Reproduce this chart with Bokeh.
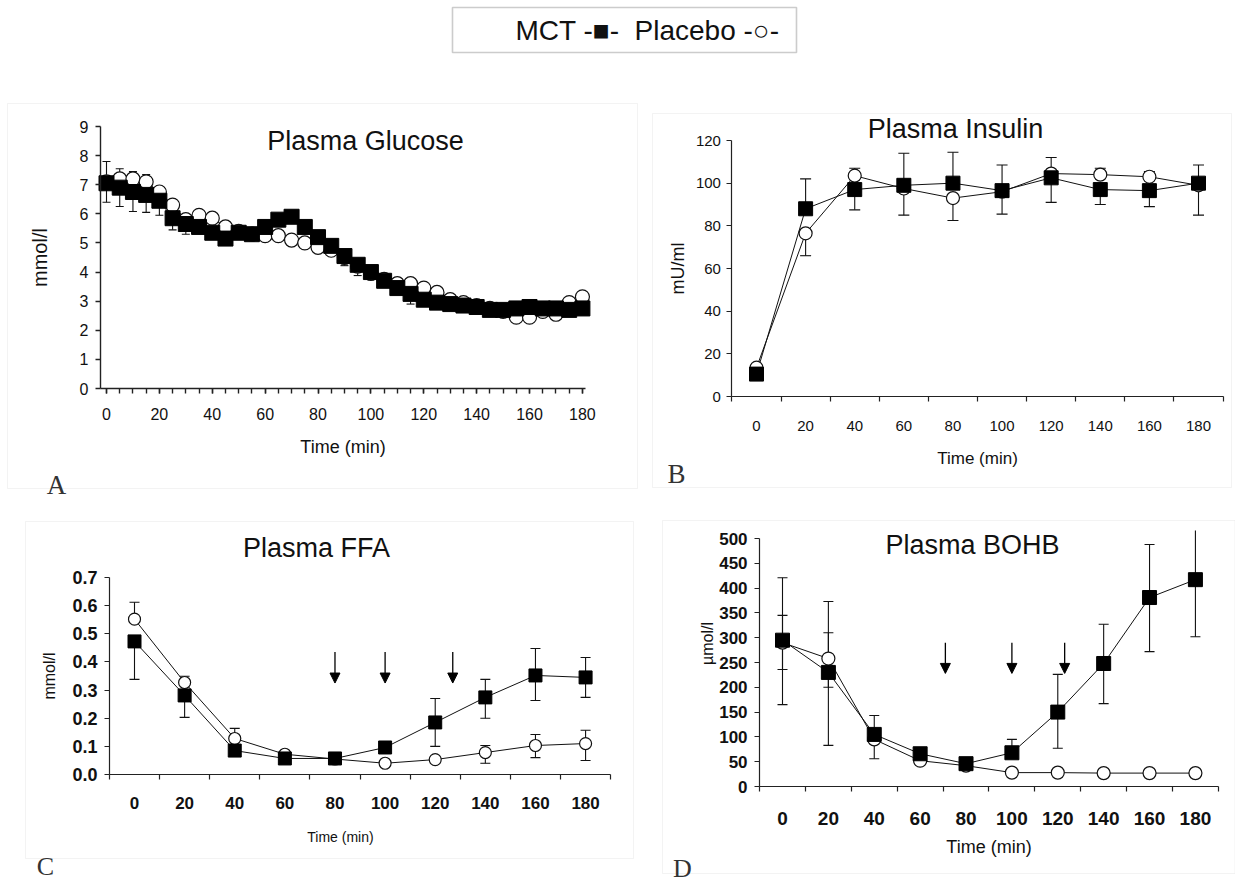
import math
from bokeh.plotting import figure
from bokeh.models import (LinearAxis, FixedTicker, Label, Arrow, NormalHead, Range1d,
                          BoxAnnotation, NumeralTickFormatter)
from bokeh.layouts import column, row
from bokeh.embed import file_html
from bokeh.resources import INLINE

NaN = float("nan")

# ---------------- data ----------------
glu_time = list(range(0, 185, 5))
glu_mct = [7.05, 6.9, 6.75, 6.65, 6.45, 5.85, 5.65, 5.55, 5.35, 5.15, 5.35, 5.3,
           5.55, 5.8, 5.9, 5.55, 5.2, 4.9, 4.55, 4.25, 4.0, 3.7, 3.45, 3.25,
           3.05, 2.95, 2.9, 2.85, 2.8, 2.7, 2.7, 2.75, 2.8, 2.75, 2.75, 2.7, 2.75]
glu_plc = [7.1, 7.2, 7.2, 7.1, 6.75, 6.3, 5.8, 5.95, 5.85, 5.55, 5.4, 5.3,
           5.25, 5.25, 5.1, 5.0, 4.85, 4.75, 4.5, 4.2, 3.95, 3.75, 3.6, 3.6,
           3.45, 3.3, 3.05, 2.95, 2.85, 2.75, 2.65, 2.45, 2.45, 2.65, 2.55, 2.95, 3.15]
glu_mct_lo = [6.4, 6.25, 6.08, 6.05, 5.95, 5.45, 5.3, NaN, NaN, NaN, NaN, NaN,
              NaN, NaN, NaN, NaN, NaN, NaN, 4.22, 3.88, NaN, NaN, NaN, 2.9,
              NaN, NaN, NaN, NaN, NaN, NaN, NaN, NaN, NaN, NaN, NaN, NaN, NaN]
glu_plc_hi = [7.8, 7.55, 7.45, 7.35, NaN, NaN, NaN, NaN, NaN, NaN, NaN, NaN,
              NaN, NaN, NaN, NaN, NaN, NaN, NaN, NaN, NaN, NaN, 3.8, NaN,
              NaN, NaN, NaN, NaN, NaN, NaN, NaN, NaN, NaN, NaN, NaN, NaN, NaN]
glu_none = [NaN] * len(glu_time)

ins_time = [0, 20, 40, 60, 80, 100, 120, 140, 160, 180]
ins_mct = [10.5, 88, 97, 99, 100, 96.5, 102.5, 97, 96.5, 100]
ins_plc = [13.5, 76.5, 103.5, 97.5, 93, 96, 104.5, 104, 103, 99]
ins_mct_hi = [NaN, 102, NaN, 114, 114.5, 108.5, NaN, NaN, NaN, 108.5]
ins_mct_lo = [NaN, NaN, 87.5, 85, NaN, 85.5, 91, 90, 89, 85]
ins_plc_hi = [NaN, NaN, 107, NaN, NaN, NaN, 112, 107, 105.5, NaN]
ins_plc_lo = [NaN, 66, NaN, NaN, 82.5, NaN, NaN, NaN, NaN, NaN]

ffa_time = [0, 20, 40, 60, 80, 100, 120, 140, 160, 180]
ffa_mct = [0.473, 0.281, 0.085, 0.057, 0.057, 0.096, 0.185, 0.274, 0.352, 0.345]
ffa_plc = [0.552, 0.327, 0.128, 0.072, 0.055, 0.040, 0.053, 0.078, 0.103, 0.110]
ffa_mct_hi = [NaN, NaN, NaN, NaN, NaN, NaN, 0.27, 0.338, 0.448, 0.416]
ffa_mct_lo = [0.338, 0.203, NaN, NaN, NaN, NaN, 0.10, 0.20, 0.263, 0.274]
ffa_plc_hi = [0.612, 0.349, 0.164, 0.085, NaN, NaN, NaN, 0.103, 0.142, 0.157]
ffa_plc_lo = [NaN, NaN, NaN, NaN, NaN, NaN, NaN, 0.04, 0.06, 0.05]
ffa_arrow_times = [80, 100, 127]
ffa_arrow_from, ffa_arrow_to = 0.435, 0.325

bohb_time = [0, 20, 40, 60, 80, 100, 120, 140, 160, 180]
bohb_mct = [295, 230, 105, 66, 46, 68, 150, 248, 381, 417]
bohb_plc = [290, 258, 95, 52, 42, 28, 28, 27, 27, 27]
bohb_mct_hi = [421, 373, 143, NaN, NaN, 95, 226, 327, 488, 516]
bohb_mct_lo = [165, 83, 56, NaN, NaN, NaN, 77, 167, 272, 302]
bohb_plc_hi = [345, 310, NaN, NaN, NaN, NaN, NaN, NaN, NaN, NaN]
bohb_plc_lo = [236, 200, NaN, NaN, NaN, NaN, NaN, NaN, NaN, NaN]
bohb_arrow_times = [71, 100, 123]
bohb_arrow_from, bohb_arrow_to = 290, 228

tick20 = [0, 20, 40, 60, 80, 100, 120, 140, 160, 180]
tick_odd10 = [-10, 10, 30, 50, 70, 90, 110, 130, 150, 170, 190]
tick5 = list(range(0, 185, 5))

SANS = "Liberation Sans"
SERIF = "Liberation Serif"
INK = "#111111"


# ---------------- helpers ----------------
class Cal:
    """page-pixel calibration of one panel (figure placed at L,T with size W,H)"""
    def __init__(self, L, T, W, H, x0, sx, y0, sy):
        self.L, self.T, self.W, self.H = L, T, W, H
        self.x0, self.sx, self.y0, self.sy = x0, sx, y0, sy

    def X(self, px):
        return (px - self.x0) / self.sx

    def Y(self, py):
        return (self.y0 - py) / self.sy

    def fig(self):
        p = figure(width=self.W, height=self.H,
                   x_range=Range1d(self.X(self.L), self.X(self.L + self.W)),
                   y_range=Range1d(self.Y(self.T + self.H), self.Y(self.T)),
                   x_axis_type=None, y_axis_type=None, toolbar_location=None,
                   output_backend="svg", min_border=0)
        p.outline_line_color = None
        p.background_fill_color = "white"
        p.border_fill_color = "white"
        p.title.visible = False
        return p


def panel_box(p, c, l, r, t, b):
    p.add_layout(BoxAnnotation(left=c.X(l), right=c.X(r), top=c.Y(t), bottom=c.Y(b),
                               fill_alpha=0, line_color="#d6d6d6", line_width=1))


def text(p, c, px, py, s, size, font=SANS, style="normal", align="center",
         angle=0.0, color=INK):
    p.add_layout(Label(x=c.X(px), y=c.Y(py), text=s, text_font=font,
                       text_font_size=size, text_font_style=style, text_align=align,
                       text_baseline="middle", angle=angle, text_color=color))


def axes(p, xb, yb, xticks, xminor, yticks, xfont, yfont, style="normal",
         xmajor_out=5, xminor_out=5, xstand=10, ystand=7, yfmt=None,
         xlabel=None, xlabel_size="18px", xlabel_stand=10,
         ylabel=None, ylabel_size="18px", ylabel_stand=10, lw=1.3):
    ax = LinearAxis(fixed_location=yb[0], bounds=xb,
                    ticker=FixedTicker(ticks=xticks, minor_ticks=xminor))
    ay = LinearAxis(fixed_location=xb[0], bounds=yb,
                    ticker=FixedTicker(ticks=yticks))
    for a in (ax, ay):
        a.axis_line_color = "#222222"
        a.axis_line_width = lw
        a.major_tick_line_color = "#222222"
        a.minor_tick_line_color = "#222222"
        a.major_tick_line_width = lw
        a.minor_tick_line_width = lw
        a.major_tick_in = 0
        a.minor_tick_in = 0
        a.major_label_text_font = SANS
        a.major_label_text_font_style = style
        a.major_label_text_color = INK
        a.axis_label_text_font = SANS
        a.axis_label_text_font_style = "normal"
        a.axis_label_text_color = INK
    ax.major_tick_out = xmajor_out
    ax.minor_tick_out = xminor_out
    ay.major_tick_out = 5
    ay.minor_tick_out = 0
    ax.major_label_text_font_size = xfont
    ay.major_label_text_font_size = yfont
    ax.major_label_standoff = xstand
    ay.major_label_standoff = ystand
    if yfmt is not None:
        ay.formatter = NumeralTickFormatter(format=yfmt)
    if xlabel:
        ax.axis_label = xlabel
        ax.axis_label_text_font_size = xlabel_size
        ax.axis_label_standoff = xlabel_stand
    if ylabel:
        ay.axis_label = ylabel
        ay.axis_label_text_font_size = ylabel_size
        ay.axis_label_standoff = ylabel_stand
    p.add_layout(ax, "below")
    p.add_layout(ay, "left")


def series(p, t, mct, plc, mct_hi, mct_lo, plc_hi, plc_lo, sq, ci, cap, ymax):
    p.line(t, plc, line_color=INK, line_width=1)
    p.line(t, mct, line_color=INK, line_width=1)
    xs, y0s, y1s, cx, cy = [], [], [], [], []
    for vals, his, los in ((mct, mct_hi, mct_lo), (plc, plc_hi, plc_lo)):
        for ti, v, h, l in zip(t, vals, his, los):
            top = v if math.isnan(h) else h
            bot = v if math.isnan(l) else l
            if top != bot:
                xs.append(ti); y0s.append(bot); y1s.append(top)
            if not math.isnan(h) and h <= ymax:
                cx.append(ti); cy.append(h)
            if not math.isnan(l):
                cx.append(ti); cy.append(l)
    p.segment(x0=xs, y0=y0s, x1=xs, y1=y1s, line_color=INK, line_width=1.1)
    p.scatter(cx, cy, marker="dash", size=cap, line_color=INK, line_width=1.1)
    p.scatter(t, plc, marker="circle", size=ci, fill_color="white",
              line_color=INK, line_width=1.2)
    p.scatter(t, mct, marker="square", size=sq, fill_color="black",
              line_color="black", line_width=1)


def arrows(p, times, y_from, y_to):
    for ta in times:
        p.add_layout(Arrow(end=NormalHead(size=10, fill_color="black", line_color="black"),
                           x_start=ta, y_start=y_from, x_end=ta, y_end=y_to,
                           line_color="black", line_width=1.3))


# ---------------- legend strip ----------------
leg = figure(width=1235, height=98, x_range=Range1d(0, 1235), y_range=Range1d(98, 0),
             x_axis_type=None, y_axis_type=None, toolbar_location=None,
             output_backend="svg", min_border=0)
leg.outline_line_color = None
leg.title.visible = False
leg.add_layout(BoxAnnotation(left=452, right=796, top=7, bottom=52, fill_alpha=0,
                             line_color="#555555", line_width=1.6))
leg.add_layout(Label(x=515, y=30, text="MCT -\u25a0-\u00a0 Placebo -\u25cb-", text_font=SANS,
                     text_font_size="28px", text_baseline="middle", text_color=INK))

# ---------------- A: glucose ----------------
cA = Cal(0, 98, 648, 412, 106, 2.644, 388, 29.11)
pA = cA.fig()
panel_box(pA, cA, 7, 637, 103, 488)
axes(pA, (-2.3, 181), (0, 9), tick20, tick5, list(range(10)), "16px", "16px",
     xstand=14, ystand=7, xlabel="Time (min)", xlabel_size="18px", xlabel_stand=14,
     ylabel="mmol/l", ylabel_size="20px", ylabel_stand=26, lw=1.4)
series(pA, glu_time, glu_mct, glu_plc, glu_none, glu_mct_lo, glu_plc_hi, glu_none,
       15, 14, 8, 9)
text(pA, cA, 365, 140, "Plasma Glucose", "27px")
text(pA, cA, 56, 484, "A", "27px", font=SERIF, color="#333333")

# ---------------- B: insulin ----------------
cB = Cal(648, 98, 587, 412, 756, 2.4556, 396, 2.1333)
pB = cB.fig()
panel_box(pB, cB, 652, 1231, 113, 487)
axes(pB, (-10, 190), (0, 120), tick20, tick_odd10, [0, 20, 40, 60, 80, 100, 120],
     "15px", "15px", xmajor_out=0, xminor_out=5, xstand=19, ystand=6,
     xlabel="Time (min)", xlabel_size="17px", xlabel_stand=15,
     ylabel="mU/ml", ylabel_size="18px", ylabel_stand=4, lw=1.2)
series(pB, ins_time, ins_mct, ins_plc, ins_mct_hi, ins_mct_lo, ins_plc_hi, ins_plc_lo,
       14, 13, 11, 120)
text(pB, cB, 955, 128, "Plasma Insulin", "27px")
text(pB, cB, 676, 473, "B", "27px", font=SERIF, color="#333333")

# ---------------- C: FFA ----------------
cC = Cal(0, 510, 652, 373, 134, 2.506, 774, 281.4)
pC = cC.fig()
panel_box(pC, cC, 25, 633, 521, 858)
axes(pC, (-10, 190), (0, 0.7), tick20, tick_odd10,
     [0, 0.1, 0.2, 0.3, 0.4, 0.5, 0.6, 0.7], "17px", "18px", style="bold",
     xmajor_out=0, xminor_out=5, xstand=17, ystand=7, yfmt="0.0",
     ylabel="mmol/l", ylabel_size="16px", ylabel_stand=11, lw=1.2)
series(pC, ffa_time, ffa_mct, ffa_plc, ffa_mct_hi, ffa_mct_lo, ffa_plc_hi, ffa_plc_lo,
       13, 12, 10, 0.7)
arrows(pC, ffa_arrow_times, ffa_arrow_from, ffa_arrow_to)
text(pC, cC, 340, 836, "Time (min)", "14px")
text(pC, cC, 316, 547, "Plasma FFA", "27px")
text(pC, cC, 45, 866, "C", "26px", font=SERIF, color="#333333")

# ---------------- D: BOHB ----------------
cD = Cal(652, 510, 583, 373, 782, 2.294, 786, 0.496)
pD = cD.fig()
panel_box(pD, cD, 662, 1234.5, 520, 873)
axes(pD, (-10, 190), (0, 500), tick20, tick_odd10, list(range(0, 550, 50)),
     "19px", "17px", style="bold", xmajor_out=0, xminor_out=5, xstand=20, ystand=7,
     xlabel="Time (min)", xlabel_size="18px", xlabel_stand=9, lw=1.2)
series(pD, bohb_time, bohb_mct, bohb_plc, bohb_mct_hi, bohb_mct_lo, bohb_plc_hi,
       bohb_plc_lo, 14, 13, 10, 500)
arrows(pD, bohb_arrow_times, bohb_arrow_from, bohb_arrow_to)
text(pD, cD, 707, 643, "\u00b5mol/l", "16px", angle=math.pi / 2)
text(pD, cD, 972, 544, "Plasma BOHB", "27px")
text(pD, cD, 682, 868, "D", "26px", font=SERIF, color="#333333")

layout = column(leg, row(pA, pB), row(pC, pD))
open("out.html", "w").write(file_html(layout, INLINE))
